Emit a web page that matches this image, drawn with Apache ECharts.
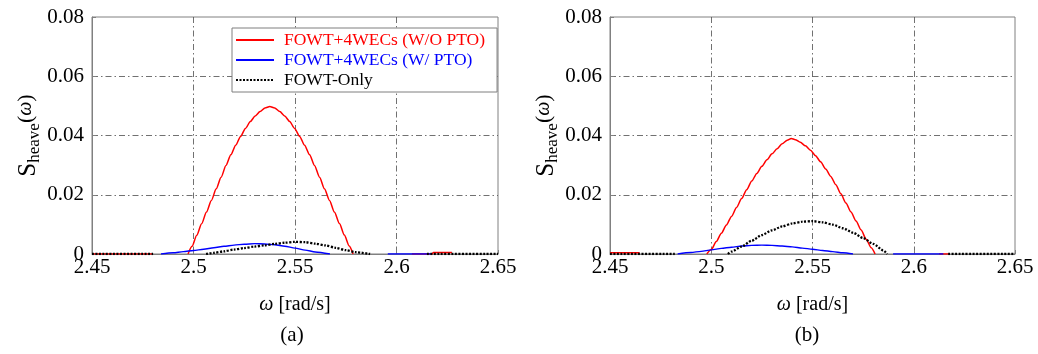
<!DOCTYPE html>
<html>
<head>
<meta charset="utf-8">
<script src="https://cdn.jsdelivr.net/npm/echarts@6/dist/echarts.min.js"></script>
<style>
  html, body { margin: 0; padding: 0; background: #fff; }
  #chart { width: 1038px; height: 354px; }
</style>
</head>
<body>
<div id="chart"></div>
<script>
// ---- data -------------------------------------------------------------
const seriesNames = ['FOWT+4WECs (W/O PTO)', 'FOWT+4WECs (W/ PTO)', 'FOWT-Only'];
const panelLabels = ['(a)', '(b)'];
const xTicks = [2.45, 2.5, 2.55, 2.6, 2.65];
const yTicks = [0, 0.02, 0.04, 0.06, 0.08];
const xStep = 0.05;
const yStep = 0.02;

// null = break in the curve (spectrum below zero, not drawn)
// panel (a)
const omegaRedA = [2.45, 2.48, 2.49, 2.4973, 2.4993, 2.5016, 2.504, 2.5064, 2.5088, 2.5112, 2.5136, 2.516, 2.5184,
  2.5208, 2.5232, 2.5256, 2.528, 2.5304, 2.5328, 2.5352, 2.5376, 2.54, 2.5425, 2.5449, 2.5474, 2.5498, 2.5523,
  2.5547, 2.5572, 2.5596, 2.5621, 2.5645, 2.567, 2.5694, 2.5719, 2.5743, 2.5767, 2.5786, 2.59, 2.6076, 2.6175,
  2.6182, 2.6273];
const sRedA = [0, 0, null, 0, 0.0026, 0.0063, 0.0102, 0.0142, 0.0181, 0.022, 0.0259, 0.0299, 0.0335,
  0.0367, 0.0397, 0.0424, 0.0447, 0.0466, 0.0481, 0.0493, 0.0498, 0.0493, 0.0481, 0.0466, 0.0447, 0.0424, 0.0397,
  0.0367, 0.0335, 0.0299, 0.0259, 0.022, 0.0181, 0.0142, 0.0103, 0.0064, 0.0027, 0, null, 0, 0,
  0.0005, 0.0005];

const omegaBlueA = [2.484, 2.49, 2.495, 2.5, 2.505, 2.51, 2.515, 2.52, 2.525, 2.53, 2.535, 2.54, 2.545, 2.55,
  2.555, 2.56, 2.5672, 2.58, 2.5957, 2.6175];
const sBlueA = [0, 0.0004, 0.0008, 0.0012, 0.0016, 0.0021, 0.0026, 0.003, 0.0033, 0.0035, 0.0034, 0.0031, 0.0026, 0.002,
  0.0013, 0.0007, 0, null, 0, 0];

const omegaBlackA = [2.45, 2.4801, 2.49, 2.5062, 2.51, 2.515, 2.52, 2.525, 2.53, 2.535, 2.54, 2.545, 2.55, 2.555,
  2.56, 2.565, 2.57, 2.575, 2.58, 2.587, 2.6, 2.615, 2.65];
const sBlackA = [0, 0, null, 0, 0.0004, 0.0009, 0.0015, 0.002, 0.0025, 0.0029, 0.0034, 0.0038, 0.0041, 0.004,
  0.0035, 0.0029, 0.0021, 0.0013, 0.0006, 0, null, 0, 0];

// panel (b)
const omegaRedB = [2.45, 2.4646, 2.48, 2.4978, 2.5, 2.5025, 2.505, 2.5075, 2.51, 2.5125, 2.515, 2.5175, 2.52, 2.5225,
  2.525, 2.5275, 2.53, 2.5325, 2.535, 2.5375, 2.5395, 2.5415, 2.544, 2.5465, 2.549, 2.5515, 2.554, 2.5565, 2.559,
  2.5615, 2.564, 2.5665, 2.569, 2.5715, 2.574, 2.5765, 2.579, 2.5809, 2.6, 2.6125, 2.6175];
const sRedB = [0.0004, 0.0004, null, 0, 0.0015, 0.0042, 0.007, 0.0098, 0.0127, 0.0157, 0.0187, 0.0217, 0.0246, 0.0272,
  0.0296, 0.0318, 0.0338, 0.0355, 0.0372, 0.0384, 0.039, 0.0386, 0.0377, 0.0365, 0.035, 0.0332, 0.0311, 0.0287, 0.0262,
  0.0234, 0.0203, 0.0172, 0.0142, 0.0111, 0.0081, 0.005, 0.0021, 0, null, 0, 0];

const omegaBlueB = [2.4834, 2.49, 2.495, 2.5, 2.505, 2.51, 2.515, 2.52, 2.525, 2.53, 2.535, 2.54, 2.545, 2.55,
  2.555, 2.56, 2.565, 2.57, 2.58, 2.5898, 2.6146];
const sBlueB = [0, 0.0005, 0.0009, 0.0014, 0.0019, 0.0023, 0.0027, 0.0029, 0.003, 0.0029, 0.0027, 0.0024, 0.002, 0.0016,
  0.0012, 0.0008, 0.0004, 0, null, 0, 0];

const omegaBlackB = [2.45, 2.482, 2.49, 2.5082, 2.51, 2.515, 2.52, 2.525, 2.53, 2.535, 2.54, 2.545, 2.55, 2.555,
  2.56, 2.565, 2.57, 2.575, 2.58, 2.585, 2.5869, 2.6, 2.617, 2.65];
const sBlackB = [0, 0, null, 0, 0.0008, 0.0025, 0.0045, 0.0064, 0.008, 0.0093, 0.0103, 0.0109, 0.0111, 0.0107,
  0.0099, 0.0087, 0.0072, 0.0054, 0.0034, 0.0012, 0, null, 0, 0];

// ---- styling ------------------------------------------------------------
const FONT = '"Liberation Serif", "Times New Roman", serif';
const AXIS_GREY = '#808080';
const COLORS = ['#ff0000', '#0000ff', '#000000'];
const LINE_STYLES = [
  { color: COLORS[0], width: 1.5, type: 'solid' },
  { color: COLORS[1], width: 1.4, type: 'solid' },
  { color: COLORS[2], width: 2.3, type: [2, 1.5] }
];

function pairs(w, s) {
  return w.map((x, i) => [x, s[i] === null ? '-' : s[i]]);
}

// tick label text: strip floating-point noise, drop trailing zeros
function tickText(v) {
  return String(parseFloat(v.toFixed(4)));
}

const panels = [
  [[omegaRedA, sRedA], [omegaBlueA, sBlueA], [omegaBlackA, sBlackA]],
  [[omegaRedB, sRedB], [omegaBlueB, sBlueB], [omegaBlackB, sBlackB]]
];

const gridBoxes = [
  { left: 92, top: 17, width: 406, height: 237 },
  { left: 610, top: 17, width: 405, height: 237 }
];

const splitStyle = { color: '#4d4d4d', width: 0.8, type: [6, 3, 1.5, 3] };

function xAxisFor(i) {
  return {
    type: 'value', gridIndex: i,
    min: xTicks[0], max: xTicks[xTicks.length - 1], interval: xStep,
    axisLine: { show: true, onZero: false, lineStyle: { color: AXIS_GREY, width: 1 } },
    axisTick: { show: true, inside: true, length: 4, lineStyle: { color: AXIS_GREY } },
    axisLabel: { color: '#000', fontFamily: FONT, fontSize: 21, margin: 3, formatter: tickText },
    splitLine: { show: true, showMinLine: false, showMaxLine: false, lineStyle: splitStyle },
    name: '{w|ω} [rad/s]',
    nameLocation: 'middle', nameGap: 41,
    nameTextStyle: {
      color: '#000', fontFamily: FONT, fontSize: 20,
      rich: { w: { fontFamily: FONT, fontSize: 20, fontStyle: 'italic', color: '#000' } }
    }
  };
}

function yAxisFor(i) {
  return {
    type: 'value', gridIndex: i,
    min: yTicks[0], max: yTicks[yTicks.length - 1], interval: yStep,
    axisLine: { show: true, lineStyle: { color: AXIS_GREY, width: 1 } },
    axisTick: { show: true, inside: true, length: 4, lineStyle: { color: AXIS_GREY } },
    axisLabel: { color: '#000', fontFamily: FONT, fontSize: 21, margin: 8, formatter: tickText },
    splitLine: { show: true, showMinLine: false, showMaxLine: false, lineStyle: splitStyle },
    name: '{s|S}{sub|heave}{p|(}{w|ω}{p|)}',
    nameLocation: 'middle', nameRotate: 90, nameGap: 48,
    nameTextStyle: {
      color: '#000', fontFamily: FONT, fontSize: 22,
      rich: {
        s: { fontFamily: FONT, fontSize: 25, color: '#000' },
        sub: { fontFamily: FONT, fontSize: 17, color: '#000', padding: [12, 0, 0, 0] },
        p: { fontFamily: FONT, fontSize: 22, color: '#000', padding: [0, 0, 6, 0] },
        w: { fontFamily: FONT, fontSize: 20, fontStyle: 'italic', color: '#000', padding: [0, 0, 6, 0] }
      }
    }
  };
}

const series = [];
panels.forEach((panel, pi) => {
  panel.forEach(([w, s], si) => {
    series.push({
      name: seriesNames[si],
      type: 'line',
      xAxisIndex: pi, yAxisIndex: pi,
      data: pairs(w, s),
      showSymbol: false, symbol: 'none',
      smooth: 0.25, smoothMonotone: 'x',
      connectNulls: false,
      clip: true,
      z: 2 + si,
      lineStyle: LINE_STYLES[si],
      itemStyle: { color: COLORS[si] },
      emphasis: { disabled: true },
      animation: false
    });
  });
});

const chart = echarts.init(document.getElementById('chart'), null, { renderer: 'canvas' });
chart.setOption({
  backgroundColor: '#fff',
  animation: false,
  grid: gridBoxes.map(g => Object.assign({
    show: true, borderColor: AXIS_GREY, borderWidth: 1, backgroundColor: 'transparent'
  }, g)),
  xAxis: [xAxisFor(0), xAxisFor(1)],
  yAxis: [yAxisFor(0), yAxisFor(1)],
  legend: {
    orient: 'vertical',
    left: 232, top: 28,
    itemWidth: 38, itemHeight: 14, itemGap: 2,
    padding: [3, 12, 3, 3],
    borderColor: '#7f7f7f', borderWidth: 1, borderRadius: 0,
    backgroundColor: '#fff',
    selectedMode: false,
    itemStyle: { opacity: 0 },
    textStyle: { fontFamily: FONT, fontSize: 17.5, padding: [0, 0, 0, 5] },
    data: seriesNames.map((n, i) => ({ name: n, textStyle: { color: COLORS[i] } }))
  },
  graphic: panelLabels.map((t, i) => ({
    type: 'text',
    x: i === 0 ? 292 : 807,
    y: 335,
    style: {
      text: t, fill: '#000', font: '21px ' + FONT,
      textAlign: 'center', textVerticalAlign: 'middle'
    }
  })),
  series: series
});
</script>
</body>
</html>
